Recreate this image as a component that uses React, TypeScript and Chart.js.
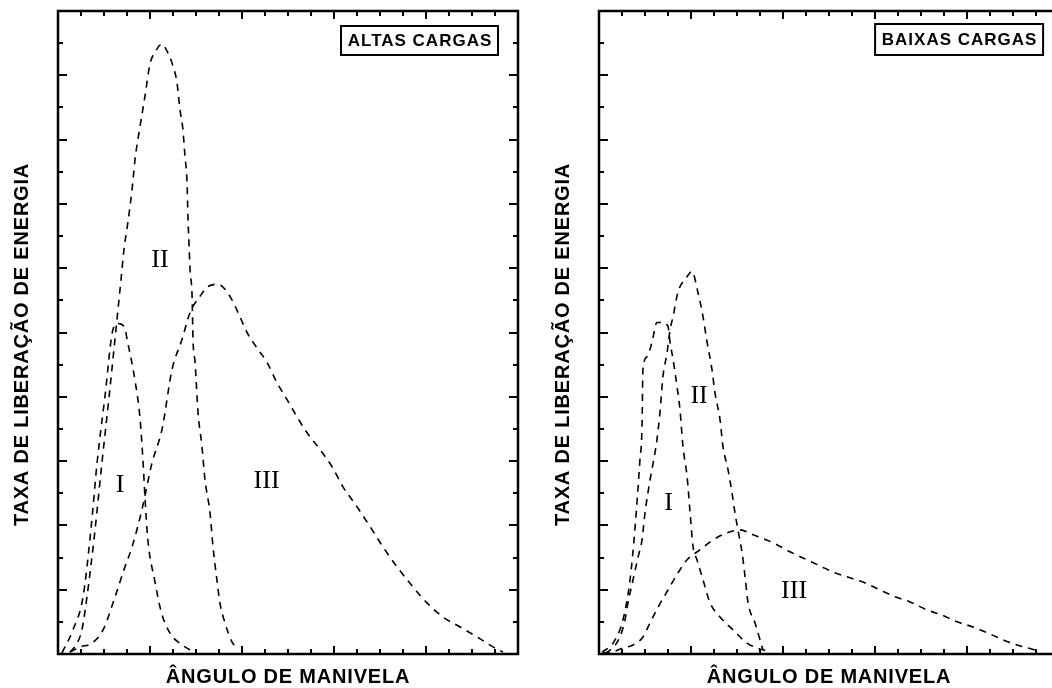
import React, { useEffect, useRef } from "react";
import { Chart, registerables } from "chart.js";

Chart.register(...registerables);

// Axis ranges (arbitrary units: one unit = one minor tick)
const X_MIN = 0;
const X_MAX_LEFT = 20;
const X_MAX_RIGHT = 20.3; // right panel's right border lies just beyond the picture
const Y_MIN = 0;
const Y_MAX = 20;
const xTickValues = [0, 1, 2, 3, 4, 5, 6, 7, 8, 9, 10, 11, 12, 13, 14, 15, 16, 17, 18, 19, 20];
const yTickValues = [0, 1, 2, 3, 4, 5, 6, 7, 8, 9, 10, 11, 12, 13, 14, 15, 16, 17, 18, 19, 20];
const X_MAJOR_EVERY = 4;
const Y_MAJOR_EVERY = 2;

const Y_TITLE = "TAXA DE LIBERAÇÃO DE ENERGIA";
const X_TITLE = "ÂNGULO DE MANIVELA";
const LEFT_BOX = "ALTAS CARGAS";
const RIGHT_BOX = "BAIXAS CARGAS";

// ---- ALTAS CARGAS (left panel) ----
const altasI_x = [0.17, 0.65, 1.09, 1.43, 1.7, 2.04, 2.39, 2.61, 2.9, 3.0, 3.35, 3.57, 3.7, 3.78, 3.9, 4.2, 4.5, 4.87, 5.4, 5.9];
const altasI_y = [0.03, 0.75, 1.78, 3.86, 5.95, 8.0, 10.09, 10.28, 10.15, 9.8, 8.5, 7.3, 5.95, 4.9, 3.6, 2.3, 1.28, 0.65, 0.28, 0.06];

const altasII_x = [0.52, 0.78, 1.04, 1.26, 1.61, 1.91, 2.22, 2.52, 2.74, 2.87, 3.04, 3.22, 3.35, 3.57, 3.78, 4.0, 4.22, 4.52, 4.74, 5.0, 5.17, 5.3, 5.43, 5.52, 5.61, 5.65, 5.7, 5.74, 5.83, 5.87, 5.96, 6.09, 6.26, 6.39, 6.61, 6.74, 6.91, 7.04, 7.26, 7.57, 7.78];
const altasII_y = [0.06, 0.28, 0.75, 1.78, 3.86, 5.95, 8.0, 10.09, 11.65, 12.59, 13.43, 14.45, 15.39, 16.42, 17.35, 18.35, 18.72, 18.97, 18.75, 18.29, 17.79, 16.95, 16.32, 15.48, 14.67, 13.6, 12.68, 11.96, 11.12, 9.78, 9.07, 7.5, 6.45, 5.42, 4.39, 3.33, 2.3, 1.59, 0.97, 0.37, 0.19];

const altasIII_x = [0.52, 0.96, 1.48, 1.96, 2.48, 2.91, 3.22, 3.65, 4.09, 4.52, 4.96, 5.39, 5.74, 6.17, 6.52, 6.96, 7.48, 7.83, 8.22, 8.7, 9.09, 9.52, 9.96, 10.39, 10.83, 11.39, 11.91, 12.39, 13.0, 13.57, 14.13, 14.74, 15.43, 16.04, 16.74, 17.48, 18.22, 18.91, 19.35];
const altasIII_y = [0.06, 0.22, 0.34, 0.75, 1.78, 2.71, 3.33, 4.49, 5.95, 6.98, 8.85, 9.78, 10.62, 11.12, 11.43, 11.5, 11.12, 10.62, 10.0, 9.47, 9.07, 8.44, 7.91, 7.38, 6.88, 6.36, 5.83, 5.2, 4.58, 3.96, 3.33, 2.71, 2.09, 1.59, 1.15, 0.84, 0.53, 0.22, 0.06];

// ---- BAIXAS CARGAS (right panel) ----
const baixasI_x = [0.13, 0.61, 1.04, 1.35, 1.57, 1.78, 1.87, 1.91, 2.09, 2.3, 2.52, 2.74, 3.0, 3.09, 3.22, 3.39, 3.52, 3.65, 3.83, 3.96, 4.09, 4.26, 4.52, 4.83, 5.26, 5.83, 6.43, 6.87, 7.3];
const baixasI_y = [0.06, 0.34, 1.06, 2.31, 3.96, 6.04, 7.07, 8.85, 9.25, 9.69, 10.31, 10.31, 10.19, 9.69, 9.16, 8.32, 7.6, 6.45, 5.51, 4.39, 3.33, 2.93, 2.31, 1.59, 1.15, 0.75, 0.34, 0.19, 0.09];

const baixasII_x = [0.26, 0.48, 0.91, 1.13, 1.26, 1.48, 1.7, 1.87, 2.0, 2.22, 2.3, 2.52, 2.65, 2.78, 2.96, 3.09, 3.22, 3.43, 3.83, 4.04, 4.3, 4.52, 4.7, 4.91, 5.04, 5.26, 5.39, 5.61, 5.78, 5.91, 6.04, 6.22, 6.35, 6.48, 6.78, 7.0, 7.13];
const baixasII_y = [0.03, 0.12, 0.53, 1.06, 1.59, 2.31, 3.02, 3.55, 4.39, 5.42, 5.73, 6.67, 7.51, 8.63, 9.38, 10.09, 10.5, 11.25, 11.74, 11.9, 11.25, 10.5, 9.69, 8.85, 8.13, 7.29, 6.45, 5.73, 5.02, 4.39, 3.86, 3.15, 2.4, 1.59, 0.97, 0.44, 0.12];

const baixasIII_x = [0.17, 0.57, 1.04, 1.48, 1.91, 2.22, 2.57, 3.0, 3.43, 3.83, 4.39, 4.96, 5.57, 6.13, 6.7, 7.57, 8.3, 9.04, 9.61, 10.17, 10.91, 11.57, 12.22, 12.87, 13.52, 14.26, 14.91, 15.57, 16.26, 16.91, 17.57, 18.17, 18.65, 19.09];
const baixasIII_y = [0.03, 0.06, 0.19, 0.28, 0.53, 0.97, 1.46, 1.99, 2.52, 2.93, 3.24, 3.55, 3.77, 3.86, 3.71, 3.46, 3.18, 2.93, 2.74, 2.55, 2.37, 2.21, 1.99, 1.78, 1.62, 1.37, 1.21, 1.0, 0.84, 0.65, 0.44, 0.28, 0.19, 0.09];

// Curve labels (roman numerals), data coordinates
const altasLabelText = ["I", "II", "III"];
const altasLabelX = [2.7, 4.43, 9.07];
const altasLabelY = [5.26, 12.24, 5.39];
const baixasLabelText = ["I", "II", "III"];
const baixasLabelX = [3.02, 4.35, 8.48];
const baixasLabelY = [4.69, 8.02, 1.95];

const toPts = (xs: number[], ys: number[]) => xs.map((x, i) => ({ x, y: ys[i] }));

const curve = (xs: number[], ys: number[]) => ({
  data: toPts(xs, ys),
  borderColor: "#000",
  borderWidth: 1.6,
  borderDash: [7, 6],
  pointRadius: 0,
  fill: false,
  showLine: true,
  cubicInterpolationMode: "monotone" as const,
});

const SANS = '"Liberation Sans", Arial, Helvetica, sans-serif';

const decorPlugin = {
  id: "decor",
  afterDatasetsDraw(chart: any, _args: any, opts: any) {
    const { ctx, chartArea: a } = chart;
    const xs = chart.scales.x;
    const ys = chart.scales.y;
    const xRight = xs.getPixelForValue(opts.xEnd);
    ctx.save();
    // frame
    ctx.strokeStyle = "#000";
    ctx.lineWidth = 2.5;
    ctx.strokeRect(a.left, a.top, a.right - a.left, a.bottom - a.top);
    // inward ticks
    ctx.lineWidth = 2;
    ctx.beginPath();
    xTickValues.forEach((v) => {
      if (v === X_MIN || v === opts.xEnd) return;
      const px = Math.round(xs.getPixelForValue(v));
      const len = v % X_MAJOR_EVERY === 0 ? 8 : 5;
      ctx.moveTo(px, a.bottom);
      ctx.lineTo(px, a.bottom - len);
      ctx.moveTo(px, a.top);
      ctx.lineTo(px, a.top + len);
    });
    yTickValues.forEach((v) => {
      if (v === Y_MIN || v === Y_MAX) return;
      const py = Math.round(ys.getPixelForValue(v));
      const len = v % Y_MAJOR_EVERY === 0 ? 9 : 5;
      ctx.moveTo(a.left, py);
      ctx.lineTo(a.left + len, py);
      ctx.moveTo(a.right, py);
      ctx.lineTo(a.right - len, py);
    });
    ctx.stroke();

    // roman numeral labels
    ctx.fillStyle = "#000";
    ctx.font = '26px "Liberation Serif", "Times New Roman", serif';
    ctx.textAlign = "center";
    ctx.textBaseline = "middle";
    opts.labelText.forEach((t: string, i: number) => {
      ctx.fillText(t, xs.getPixelForValue(opts.labelX[i]), ys.getPixelForValue(opts.labelY[i]));
    });

    // box label
    const b = opts.box;
    const bx = xRight - b.fromRight;
    const by = a.top + b.fromTop;
    ctx.fillStyle = "#fff";
    ctx.fillRect(bx, by, b.w, b.h);
    ctx.lineWidth = 2;
    ctx.strokeStyle = "#000";
    ctx.strokeRect(bx, by, b.w, b.h);
    ctx.fillStyle = "#000";
    ctx.font = "bold 17px " + SANS;
    (ctx as any).letterSpacing = "1px";
    ctx.fillText(b.text, bx + b.w / 2 + 0.5, by + b.h / 2 + 0.5);

    // axis titles
    ctx.font = "bold 20px " + SANS;
    (ctx as any).letterSpacing = "0.8px";
    ctx.fillText(X_TITLE, (a.left + xRight) / 2, a.bottom + 23.5);
    ctx.translate(a.left - 35.5, (a.top + a.bottom) / 2 + 12);
    ctx.rotate(-Math.PI / 2);
    ctx.fillText(Y_TITLE, 0, 0);
    ctx.restore();
  },
};

type PanelProps = {
  left: number;
  padLeft: number;
  padRight: number;
  xMax: number;
  datasets: any[];
  labelText: string[];
  labelX: number[];
  labelY: number[];
  box: { text: string; fromRight: number; fromTop: number; w: number; h: number };
};

const CW = 540;
const CH = 688;

function Panel(props: PanelProps) {
  const ref = useRef<HTMLCanvasElement>(null);
  useEffect(() => {
    const chart = new Chart(ref.current as HTMLCanvasElement, {
      type: "scatter",
      data: { datasets: props.datasets },
      options: {
        animation: false,
        responsive: false,
        devicePixelRatio: 1,
        layout: { padding: { left: props.padLeft, right: props.padRight, top: 11, bottom: 34 } },
        plugins: {
          legend: { display: false },
          tooltip: { enabled: false },
          decor: {
            labelText: props.labelText,
            labelX: props.labelX,
            labelY: props.labelY,
            box: props.box,
            xEnd: 20,
          },
        } as any,
        scales: {
          x: { type: "linear", min: X_MIN, max: props.xMax, display: false },
          y: { type: "linear", min: Y_MIN, max: Y_MAX, display: false },
        },
      },
      plugins: [decorPlugin],
    });
    return () => chart.destroy();
  }, []);
  return (
    <canvas
      ref={ref}
      width={CW}
      height={CH}
      style={{ position: "absolute", left: props.left, top: 0, width: CW, height: CH }}
    />
  );
}

export default function App() {
  return (
    <div
      style={{
        position: "absolute",
        left: 0,
        top: 0,
        width: 1052,
        height: 688,
        overflow: "hidden",
        background: "#fff",
      }}
    >
      <Panel
        left={0}
        padLeft={58}
        padRight={22}
        xMax={X_MAX_LEFT}
        datasets={[curve(altasI_x, altasI_y), curve(altasII_x, altasII_y), curve(altasIII_x, altasIII_y)]}
        labelText={altasLabelText}
        labelX={altasLabelX}
        labelY={altasLabelY}
        box={{ text: LEFT_BOX, fromRight: 177, fromTop: 15, w: 157, h: 29 }}
      />
      <Panel
        left={540}
        padLeft={59}
        padRight={14}
        xMax={X_MAX_RIGHT}
        datasets={[curve(baixasI_x, baixasI_y), curve(baixasII_x, baixasII_y), curve(baixasIII_x, baixasIII_y)]}
        labelText={baixasLabelText}
        labelX={baixasLabelX}
        labelY={baixasLabelY}
        box={{ text: RIGHT_BOX, fromRight: 184, fromTop: 13, w: 168, h: 31 }}
      />
    </div>
  );
}
